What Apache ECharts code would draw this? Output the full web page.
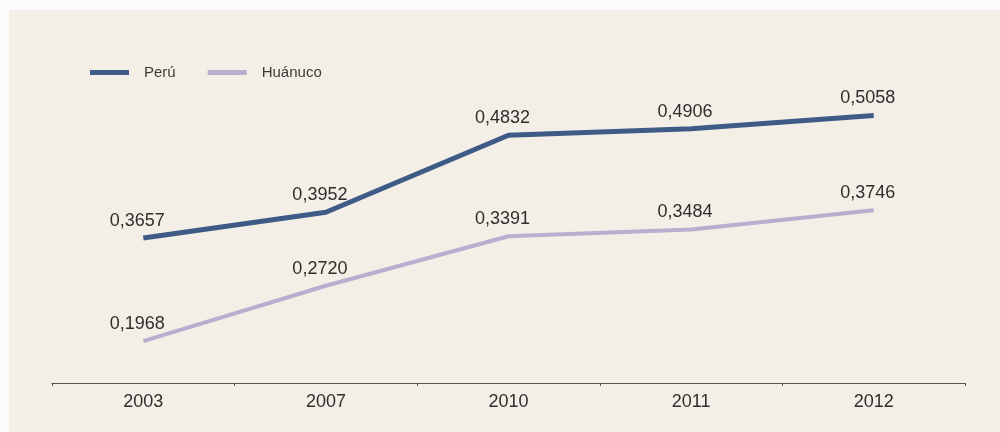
<!DOCTYPE html>
<html>
<head>
<meta charset="utf-8">
<script src="https://cdn.jsdelivr.net/npm/echarts@6/dist/echarts.min.js"></script>
<style>
  html, body { margin: 0; padding: 0; background: #fafcfd; }
  #chart { width: 1000px; height: 432px; }
</style>
</head>
<body>
<div id="chart"></div>
<script>
// Years on the horizontal axis
const years = ['2003', '2007', '2010', '2011', '2012'];
// Index values for each area
const peru = [0.3657, 0.3952, 0.4832, 0.4906, 0.5058];
const huanuco = [0.1968, 0.2720, 0.3391, 0.3484, 0.3746];

const fmt = v => v.toFixed(4).replace('.', ',');
const FONT = 'Liberation Sans, Arial, sans-serif';

const chart = echarts.init(document.getElementById('chart'), null, { renderer: 'canvas' });

const labelStyle = {
  show: true,
  position: 'top',
  distance: 8,
  offset: [-6, 0],
  color: '#2e2e2e',
  fontSize: 18,
  fontFamily: FONT,
  formatter: p => fmt(p.value)
};

chart.setOption({
  backgroundColor: '#fafcfd',
  animation: false,
  graphic: [{
    type: 'rect',
    z: -100,
    silent: true,
    shape: { x: 9, y: 10, width: 991, height: 422 },
    style: { fill: '#f4efe6' }
  }],
  legend: {
    left: 85,
    top: 60,
    itemWidth: 39,
    itemHeight: 5,
    itemGap: 32,
    icon: 'rect',
    textStyle: { color: '#3a3a3a', fontSize: 15, fontFamily: FONT, padding: [0, 0, 0, 10] },
    data: ['Perú', 'Huánuco']
  },
  grid: { left: 52, right: 35, top: 33, bottom: 49 },
  xAxis: {
    type: 'category',
    data: years,
    boundaryGap: true,
    axisLine: { lineStyle: { color: '#555', width: 1.2 } },
    axisTick: { show: true, length: 3, lineStyle: { color: '#555' } },
    axisLabel: { color: '#2e2e2e', fontSize: 18, margin: 10, fontFamily: FONT }
  },
  yAxis: [
    { type: 'value', min: 0.2, max: 0.6, show: false, splitLine: { show: false } },
    { type: 'value', min: 0.14, max: 0.615, show: false, splitLine: { show: false } }
  ],
  series: [
    {
      name: 'Perú',
      type: 'line',
      yAxisIndex: 0,
      data: peru,
      symbol: 'circle',
      symbolSize: 0.1,
      showSymbol: true,
      color: '#3e5b88',
      lineStyle: { width: 5, color: '#3e5b88' },
      label: labelStyle
    },
    {
      name: 'Huánuco',
      type: 'line',
      yAxisIndex: 1,
      data: huanuco,
      symbol: 'circle',
      symbolSize: 0.1,
      showSymbol: true,
      color: '#b8aecf',
      lineStyle: { width: 4, color: '#b8aecf' },
      label: labelStyle
    }
  ]
});
</script>
</body>
</html>
